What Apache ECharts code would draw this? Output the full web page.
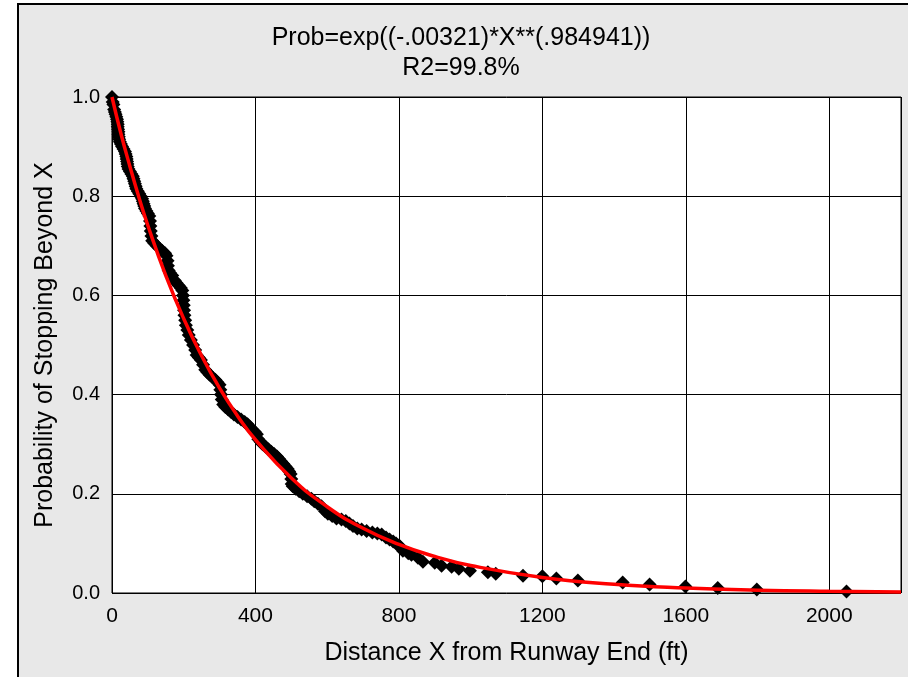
<!DOCTYPE html>
<html>
<head>
<meta charset="utf-8">
<script src="https://cdn.jsdelivr.net/npm/echarts@6/dist/echarts.min.js"></script>
<style>
  html, body { margin: 0; padding: 0; background: #fff; }
  #chart { width: 908px; height: 677px; }
</style>
</head>
<body>
<div id="chart"></div>
<script>
// observed points (distance ft, probability)
const obsX = [0, 2, 4, 6, 8, 10, 12, 14, 15, 16, 16, 17, 18, 18, 19, 20, 22, 25, 28, 32,
  36, 38, 40, 41, 42, 43, 44, 46, 50, 54, 58, 60, 62, 64, 66, 68, 72, 76, 80, 84,
  86, 88, 90, 92, 96, 100, 104, 106, 107, 108, 110, 112, 118, 125, 132, 140, 148, 152, 155, 156,
  158, 162, 168, 175, 180, 186, 192, 196, 198, 199, 200, 201, 202, 204, 206, 210, 214, 220, 226, 232,
  236, 242, 248, 254, 260, 266, 272, 280, 288, 294, 300, 302, 304, 306, 310, 316, 324, 332, 340, 350,
  360, 370, 378, 384, 390, 398, 404, 408, 414, 420, 428, 436, 444, 452, 460, 466, 472, 478, 484, 490,
  494, 498, 500, 501, 504, 512, 522, 532, 544, 556, 564, 574, 584, 594, 602, 614, 626, 640, 652, 662,
  672, 684, 696, 710, 726, 740, 752, 764, 774, 784, 792, 800, 803, 811, 826, 835, 853, 867, 900, 919,
  947, 967, 998, 1048, 1070, 1146, 1200, 1239, 1299, 1424, 1499, 1599, 1689, 1798, 2048];
const obsY = [1.0, 0.99, 0.985, 0.975, 0.97, 0.965, 0.96, 0.955, 0.95, 0.945, 0.94, 0.935, 0.93, 0.925, 0.92, 0.915, 0.91, 0.905, 0.9, 0.895,
  0.89, 0.885, 0.88, 0.875, 0.87, 0.865, 0.86, 0.855, 0.85, 0.845, 0.84, 0.835, 0.83, 0.825, 0.82, 0.815, 0.81, 0.805, 0.8, 0.795,
  0.79, 0.785, 0.78, 0.775, 0.77, 0.765, 0.76, 0.75, 0.74, 0.73, 0.72, 0.71, 0.705, 0.7, 0.695, 0.69, 0.685, 0.68, 0.67, 0.66,
  0.65, 0.645, 0.64, 0.63, 0.625, 0.62, 0.615, 0.61, 0.6, 0.59, 0.58, 0.57, 0.56, 0.55, 0.54, 0.53, 0.52, 0.51, 0.5, 0.49,
  0.48, 0.475, 0.47, 0.46, 0.45, 0.445, 0.44, 0.435, 0.43, 0.425, 0.42, 0.41, 0.4, 0.39, 0.38, 0.375, 0.37, 0.365, 0.36, 0.355,
  0.35, 0.345, 0.34, 0.335, 0.33, 0.325, 0.32, 0.31, 0.305, 0.3, 0.295, 0.29, 0.285, 0.28, 0.275, 0.27, 0.265, 0.26, 0.255, 0.25,
  0.245, 0.24, 0.23, 0.22, 0.215, 0.21, 0.205, 0.2, 0.195, 0.19, 0.185, 0.18, 0.175, 0.165, 0.16, 0.155, 0.15, 0.148, 0.145, 0.14,
  0.135, 0.13, 0.128, 0.125, 0.122, 0.12, 0.118, 0.112, 0.108, 0.104, 0.1, 0.096, 0.094, 0.085, 0.08, 0.077, 0.071, 0.063, 0.061, 0.055,
  0.053, 0.049, 0.045, 0.042, 0.039, 0.035, 0.034, 0.029, 0.025, 0.021, 0.017, 0.013, 0.01, 0.007, 0.003];

// fitted curve
const fitX = [0, 25, 50, 75, 100, 150, 200, 250, 300, 350, 400, 500, 600, 700, 800, 900, 1000, 1200, 1400, 1600, 1800, 2000, 2200];
const fitY = [1.0, 0.926, 0.86, 0.798, 0.741, 0.64, 0.553, 0.478, 0.413, 0.357, 0.309, 0.232, 0.174, 0.1305, 0.098, 0.0737, 0.0554, 0.0314, 0.0178, 0.0101, 0.0057, 0.0033, 0.0019];

const titleLines = ["Prob=exp((-.00321)*X**(.984941))", "R2=99.8%"];

const font = "'Liberation Sans', Arial, sans-serif";
const chart = echarts.init(document.getElementById("chart"));

chart.setOption({
  animation: false,
  backgroundColor: "#fff",
  graphic: [{
    type: "rect",
    z: -10,
    shape: { x: 18, y: 4, width: 1000, height: 1000 },
    style: { fill: "#e8e8e8", stroke: "#000", lineWidth: 2 }
  }],
  title: [
    { text: titleLines[0], left: 456, textAlign: "center", top: 21,
      textStyle: { fontFamily: font, fontSize: 25, fontWeight: "normal", color: "#000" } },
    { text: titleLines[1], left: 456, textAlign: "center", top: 51,
      textStyle: { fontFamily: font, fontSize: 25, fontWeight: "normal", color: "#000" } }
  ],
  grid: {
    left: 112, right: 7, top: 97, bottom: 84,
    show: true, backgroundColor: "#fff", borderColor: "#000", borderWidth: 1
  },
  xAxis: {
    type: "value", min: 0, max: 2200, interval: 400,
    name: "Distance X from Runway End (ft)",
    nameLocation: "middle", nameGap: 48,
    nameTextStyle: { fontFamily: font, fontSize: 25, color: "#000" },
    axisLine: { show: false },
    axisTick: { show: false },
    axisLabel: { fontFamily: font, fontSize: 21, color: "#000", margin: 13, showMaxLabel: false,
      formatter: v => String(v) },
    splitLine: { show: true, lineStyle: { color: "#000", width: 1 } }
  },
  yAxis: {
    type: "value", min: 0, max: 1, interval: 0.2,
    name: "Probability of Stopping Beyond X",
    nameLocation: "middle", nameGap: 54,
    nameTextStyle: { fontFamily: font, fontSize: 25, color: "#000" },
    axisLine: { show: false },
    axisTick: { show: false },
    axisLabel: { fontFamily: font, fontSize: 20, color: "#000", margin: 12,
      formatter: v => v.toFixed(1) },
    splitLine: { show: true, lineStyle: { color: "#000", width: 1 } }
  },
  series: [
    {
      type: "scatter",
      symbol: "diamond",
      symbolSize: 14,
      itemStyle: { color: "#000", opacity: 1 },
      data: obsX.map((x, i) => [x, obsY[i]]),
      z: 2
    },
    {
      type: "line",
      smooth: true,
      showSymbol: false,
      lineStyle: { color: "#ff0000", width: 3.5 },
      data: fitX.map((x, i) => [x, fitY[i]]),
      z: 3
    }
  ]
});
</script>
</body>
</html>
